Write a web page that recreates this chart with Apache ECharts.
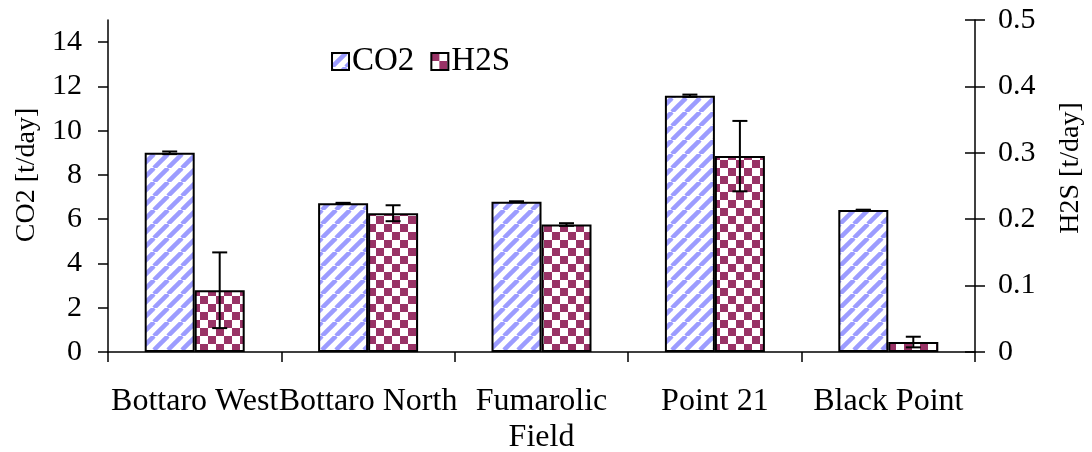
<!DOCTYPE html>
<html>
<head>
<meta charset="utf-8">
<script src="https://cdn.jsdelivr.net/npm/echarts@6/dist/echarts.min.js"></script>
<style>
  html, body { margin: 0; padding: 0; background: #fff; }
  #chart { width: 1092px; height: 452px; }
</style>
</head>
<body>
<div id="chart"></div>
<script>
// Gas output per site, with standard-deviation error bars
const categories = ['Bottaro West', 'Bottaro North', 'Fumarolic\nField', 'Point 21', 'Black Point'];
const co2Values = [9.0, 6.72, 6.79, 11.58, 6.42];   // t/day, left axis
const co2Errors = [0.06, 0.02, 0.02, 0.05, 0.01];
const h2sValues = [0.093, 0.209, 0.192, 0.295, 0.015]; // t/day, right axis
const h2sErrors = [0.057, 0.012, 0.002, 0.053, 0.008];
const co2Ticks = [0, 2, 4, 6, 8, 10, 12, 14];
const h2sTicks = [0, 0.1, 0.2, 0.3, 0.4, 0.5];
const co2Title = 'CO2 [t/day]';
const h2sTitle = 'H2S [t/day]';

const FONT = 'Liberation Serif, Times New Roman, serif';

// Fill patterns: diagonal light-blue hatch and a maroon checkerboard
function stripePattern() {
  const s = 14;
  const c = document.createElement('canvas');
  c.width = s; c.height = s;
  const ctx = c.getContext('2d');
  ctx.fillStyle = '#ffffff';
  ctx.fillRect(0, 0, s, s);
  ctx.strokeStyle = '#9c9cff';
  ctx.lineWidth = 4.5;
  for (let k = -1; k <= 1; k++) {
    ctx.beginPath();
    ctx.moveTo(k * s, s);
    ctx.lineTo(k * s + s, 0);
    ctx.stroke();
  }
  return c;
}
function checkerPattern() {
  const s = 8;
  const c = document.createElement('canvas');
  c.width = 2 * s; c.height = 2 * s;
  const ctx = c.getContext('2d');
  ctx.fillStyle = '#ffffff';
  ctx.fillRect(0, 0, 2 * s, 2 * s);
  ctx.fillStyle = '#993366';
  ctx.fillRect(0, 0, s, s);
  ctx.fillRect(s, s, s, s);
  return c;
}

const BAR_W = 50;

function errorBarRenderer(offset) {
  return function (params, api) {
    const i = api.value(0);
    const v = api.value(1);
    const e = api.value(2);
    const hi = api.coord([i, v + e]);
    const lo = api.coord([i, v - e]);
    const x = hi[0] + offset;
    const cap = 7.5;
    const style = { stroke: '#000', lineWidth: 2 };
    return {
      type: 'group',
      children: [
        { type: 'line', shape: { x1: x, y1: hi[1], x2: x, y2: lo[1] }, style },
        { type: 'line', shape: { x1: x - cap, y1: hi[1], x2: x + cap, y2: hi[1] }, style },
        { type: 'line', shape: { x1: x - cap, y1: lo[1], x2: x + cap, y2: lo[1] }, style }
      ]
    };
  };
}

const chart = echarts.init(document.getElementById('chart'), null, { renderer: 'canvas' });

const axisLineStyle = { show: true, lineStyle: { color: '#000', width: 1.5 } };

chart.setOption({
  animation: false,
  backgroundColor: '#fff',
  textStyle: { fontFamily: FONT, color: '#000' },
  grid: { left: 108, right: 117, top: 20, bottom: 100, containLabel: false, outerBoundsMode: 'none' },
  legend: {
    data: ['CO2', 'H2S'],
    left: 326, top: 40,
    icon: 'rect',
    itemWidth: 17, itemHeight: 17, itemGap: 16,
    textStyle: { fontFamily: FONT, fontSize: 33, color: '#000', padding: [0, 0, 0, -2] }
  },
  graphic: [
    {
      type: 'text', x: 27, y: 175, rotation: Math.PI / 2,
      style: { text: co2Title, font: '28px ' + FONT, fill: '#000', textAlign: 'center', textVerticalAlign: 'middle' }
    },
    {
      type: 'text', x: 1071, y: 168, rotation: Math.PI / 2,
      style: { text: h2sTitle, font: '28px ' + FONT, fill: '#000', textAlign: 'center', textVerticalAlign: 'middle' }
    }
  ],
  xAxis: {
    type: 'category',
    data: categories,
    axisLine: axisLineStyle,
    axisTick: { show: true, length: 10, lineStyle: { color: '#000', width: 1.5 } },
    axisLabel: { interval: 0, fontFamily: FONT, fontSize: 32, lineHeight: 36, color: '#000', margin: 32 }
  },
  yAxis: [
    {
      type: 'value', position: 'left', min: 0, max: 15, interval: 1,
      axisLine: axisLineStyle,
      axisTick: { show: true, length: 10, customValues: co2Ticks, lineStyle: { color: '#000', width: 1.5 } },
      axisLabel: { fontFamily: FONT, fontSize: 30, color: '#000', margin: 26, customValues: co2Ticks },
      splitLine: { show: false }
    },
    {
      type: 'value', position: 'right', min: 0, max: 0.5, interval: 0.1,
      axisLine: axisLineStyle,
      axisTick: { show: true, length: 10, customValues: h2sTicks, lineStyle: { color: '#000', width: 1.5 } },
      axisLabel: { fontFamily: FONT, fontSize: 30, color: '#000', margin: 23, customValues: h2sTicks },
      splitLine: { show: false }
    },
    {
      // inner half of the right-axis ticks (they cross the axis line)
      type: 'value', position: 'right', min: 0, max: 0.5, interval: 0.1,
      axisLine: { show: false },
      axisTick: { show: true, inside: true, length: 10, customValues: h2sTicks, lineStyle: { color: '#000', width: 1.5 } },
      axisLabel: { show: false },
      splitLine: { show: false }
    }
  ],
  series: [
    {
      name: 'CO2', type: 'bar', yAxisIndex: 0, data: co2Values,
      barWidth: BAR_W, barGap: '0%',
      itemStyle: { color: { image: stripePattern(), repeat: 'repeat' }, borderColor: '#000', borderWidth: 2 }
    },
    {
      name: 'H2S', type: 'bar', yAxisIndex: 1, data: h2sValues,
      barWidth: BAR_W, barGap: '0%',
      itemStyle: { color: { image: checkerPattern(), repeat: 'repeat' }, borderColor: '#000', borderWidth: 2 }
    },
    {
      name: 'CO2 error', type: 'custom', yAxisIndex: 0, z: 5,
      renderItem: errorBarRenderer(-BAR_W / 2),
      encode: { x: 0, y: 1 },
      data: categories.map((c, i) => [i, co2Values[i], co2Errors[i]])
    },
    {
      name: 'H2S error', type: 'custom', yAxisIndex: 1, z: 5,
      renderItem: errorBarRenderer(BAR_W / 2),
      encode: { x: 0, y: 1 },
      data: categories.map((c, i) => [i, h2sValues[i], h2sErrors[i]])
    }
  ]
});
</script>
</body>
</html>
